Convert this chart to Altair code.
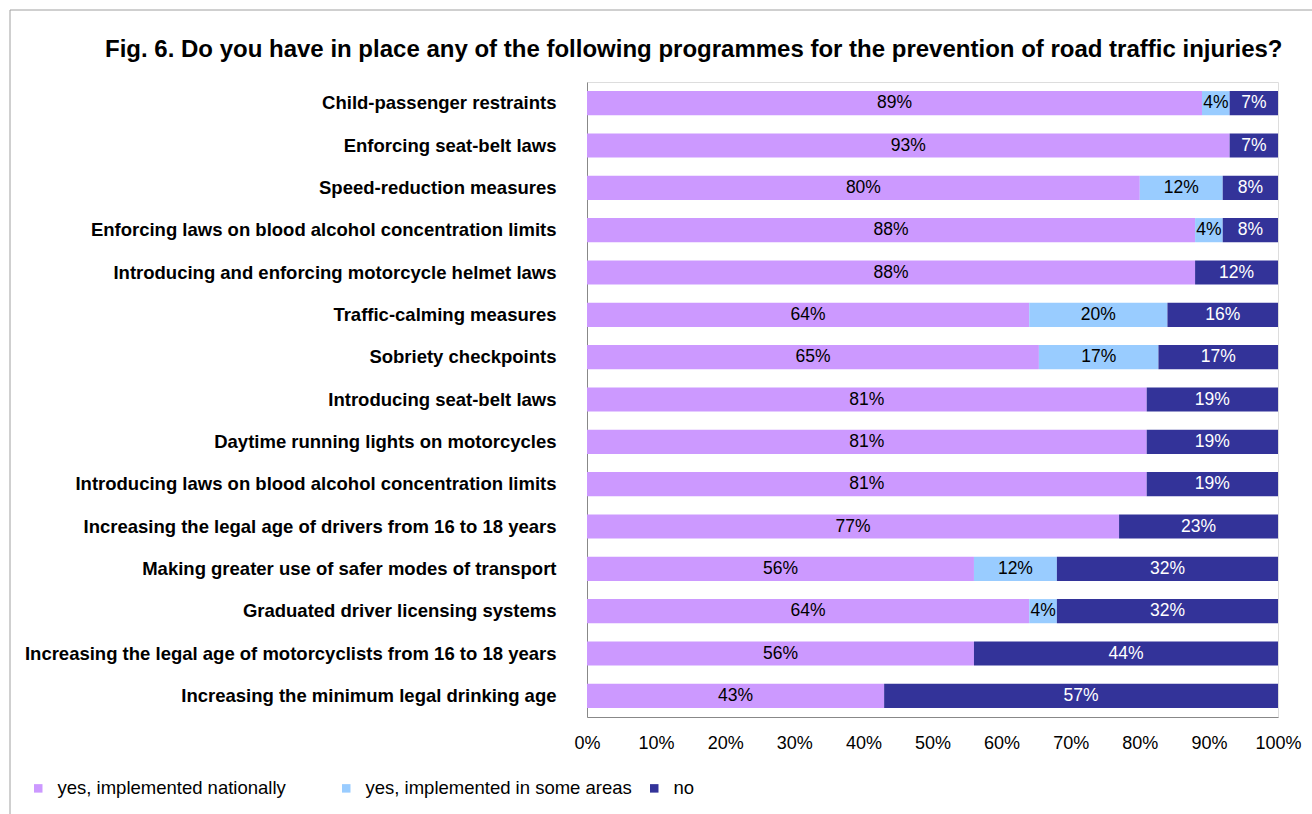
import altair as alt
import pandas as pd

items = [
    "Child-passenger restraints",
    "Enforcing seat-belt laws",
    "Speed-reduction measures",
    "Enforcing laws on blood alcohol concentration limits",
    "Introducing and enforcing motorcycle helmet laws",
    "Traffic-calming measures",
    "Sobriety checkpoints",
    "Introducing seat-belt laws",
    "Daytime running lights on motorcycles",
    "Introducing laws on blood alcohol concentration limits",
    "Increasing the legal age of drivers from 16 to 18 years",
    "Making greater use of safer modes of transport",
    "Graduated driver licensing systems",
    "Increasing the legal age of motorcyclists from 16 to 18 years",
    "Increasing the minimum legal drinking age",
]
series = ["yes, implemented nationally", "yes, implemented in some areas", "no"]
national = [89, 93, 80, 88, 88, 64, 65.4, 81, 81, 81, 77, 56, 64, 56, 43]
some_areas = [4, 0, 12, 4, 0, 20, 17.3, 0, 0, 0, 0, 12, 4, 0, 0]
no = [7, 7, 8, 8, 12, 16, 17.3, 19, 19, 19, 23, 32, 32, 44, 57]
colors = ["#CC99FF", "#99CCFF", "#333399"]
x_ticks = [0, 10, 20, 30, 40, 50, 60, 70, 80, 90, 100]
title = "Fig. 6. Do you have in place any of the following programmes for the prevention of road traffic injuries?"

rows = []
for i, item in enumerate(items):
    for k, vals in enumerate([national, some_areas, no]):
        if vals[i] > 0:
            rows.append({"item": item, "series": series[k], "k": k, "value": vals[i]})
df = pd.DataFrame(rows)

FONT = "Liberation Sans"

base = alt.Chart(df).transform_stack(
    stack="value", groupby=["item"], as_=["x0", "x1"], sort=[alt.SortField("k", order="ascending")]
).transform_calculate(
    mid="(datum.x0 + datum.x1) / 2",
    label="format(datum.value, '.0f') + '%'",
)

y_enc = alt.Y(
    "item:N",
    sort=items,
    title=None,
    scale=alt.Scale(paddingInner=0.43, paddingOuter=0.215),
    axis=alt.Axis(
        labelFont=FONT, labelFontSize=18.5, labelFontWeight="bold", labelColor="#000000",
        labelPadding=31, ticks=False, domainColor="#888888", domainWidth=1, labelLimit=600,
    ),
)

bars = base.mark_bar(stroke=None).encode(
    x=alt.X(
        "x0:Q",
        title=None,
        scale=alt.Scale(domain=[0, 100], nice=False),
        axis=alt.Axis(
            values=x_ticks, labelExpr="datum.value + '%'", grid=False, ticks=False,
            labelFont=FONT, labelFontSize=18, labelColor="#000000", labelPadding=17,
            labelFlush=False, domainColor="#888888", domainWidth=1,
        ),
    ),
    x2="x1:Q",
    y=y_enc,
    color=alt.Color(
        "series:N",
        scale=alt.Scale(domain=series, range=colors),
        legend=alt.Legend(
            title=None, orient="none", direction="horizontal", legendX=-558, legendY=697,
            symbolType="square", symbolSize=72, symbolStrokeWidth=0, labelFont=FONT,
            labelFontSize=18.5, labelColor="#000000", columnPadding=13, labelOffset=10,
            gridAlign="all", padding=0, labelLimit=400,
        ),
    ),
)

texts = base.mark_text(font=FONT, fontSize=17.5, baseline="middle", align="center").encode(
    x="mid:Q",
    y=alt.Y("item:N", sort=items),
    text="label:N",
    color=alt.condition("datum.series == 'no'", alt.value("#FFFFFF"), alt.value("#000000")),
)

frame = alt.Chart(pd.DataFrame({"f": [0]})).mark_rect(
    fill=None, stroke="#A0A0A0", strokeWidth=1
).encode(
    x=alt.value(-577), x2=alt.value(900), y=alt.value(-72), y2=alt.value(900)
)

chart = alt.layer(frame, bars, texts).properties(
    width=691,
    height=635,
    padding={"left": 587, "top": 82, "right": 34, "bottom": 97},
    autosize=alt.AutoSizeParams(type="none"),
    title=alt.TitleParams(
        title, anchor="start", frame="group", dx=-482, offset=0, dy=71, font=FONT,
        fontSize=24, fontWeight="bold", color="#000000", baseline="alphabetic",
    ),
).configure_view(stroke=None).configure(background="#FFFFFF")

chart.save("out.html", embed_options={"renderer": "svg", "actions": False})
